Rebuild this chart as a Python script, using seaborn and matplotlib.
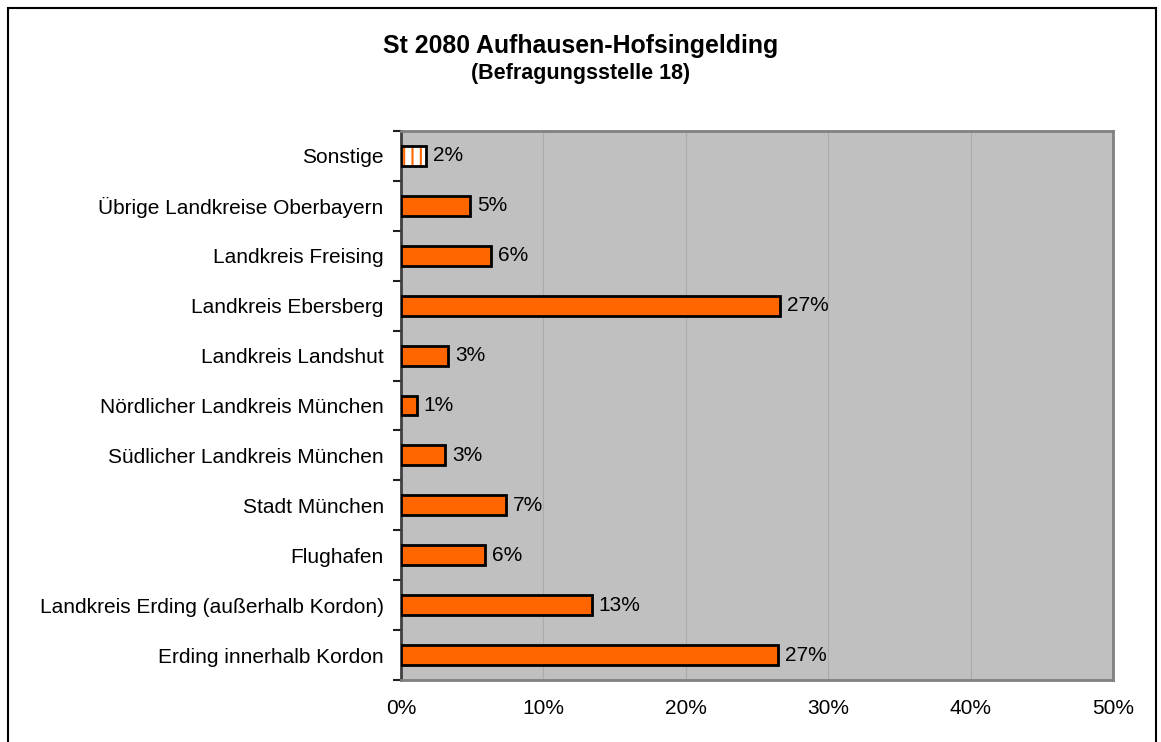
import matplotlib.pyplot as plt
import matplotlib.patches as mpatches
import seaborn as sns
import pandas as pd
import numpy as np

## data (share in %)
categories = ['Sonstige', 'Übrige Landkreise Oberbayern', 'Landkreis Freising',
              'Landkreis Ebersberg', 'Landkreis Landshut', 'Nördlicher Landkreis München',
              'Südlicher Landkreis München', 'Stadt München', 'Flughafen',
              'Landkreis Erding (außerhalb Kordon)', 'Erding innerhalb Kordon']
shares = [1.75, 4.85, 6.3, 26.6, 3.3, 1.1, 3.1, 7.4, 5.9, 13.4, 26.5]
x_ticks = [0, 10, 20, 30, 40, 50]

title = 'St 2080 Aufhausen-Hofsingelding'
subtitle = '(Befragungsstelle 18)'

df = pd.DataFrame({'cat': categories, 'share': shares})

sns.set_style('white')
plt.rcParams['font.family'] = ['Liberation Sans', 'DejaVu Sans']
plt.rcParams['text.color'] = 'black'
plt.rcParams['xtick.color'] = 'black'
plt.rcParams['ytick.color'] = 'black'
plt.rcParams['hatch.linewidth'] = 1.5

fig = plt.figure(figsize=(11.61, 7.42), dpi=100)
ax = fig.add_axes([401/1161, 1-680/742, 712/1161, 549/742])

orange = '#FF6600'
sns.barplot(data=df, y='cat', x='share', orient='h', color=orange, width=0.4,
            edgecolor='black', linewidth=2, saturation=1, ax=ax, zorder=3)

## hatched bar for "Sonstige"
p = ax.patches[0]
p.set_facecolor('white')
p.set_edgecolor(orange)
p.set_hatch('||')
p.set_linewidth(0)
frame = mpatches.Rectangle((p.get_x(), p.get_y()), p.get_width(), p.get_height(),
                           fill=False, edgecolor='black', linewidth=2, zorder=4)
ax.add_patch(frame)

ax.bar_label(ax.containers[0], labels=[f'{int(v + 0.5)}%' for v in shares],
             padding=5, fontsize=15)

ax.set_facecolor('#C0C0C0')
ax.set_xlim(0, 50)
ax.set_ylim(len(categories) - 0.5, -0.5)
ax.set_xticks(x_ticks)
ax.set_xticklabels([f'{t}%' for t in x_ticks], fontsize=15)
ax.tick_params(axis='y', length=0, labelsize=15, pad=12.5)
ax.tick_params(axis='x', length=6, width=1.5, color='#202020', pad=8)
ax.set_yticks(np.arange(-0.5, len(categories), 1), minor=True)
ax.tick_params(axis='y', which='minor', length=6, width=1.5, color='#202020', left=True)
ax.set_xlabel('')
ax.set_ylabel('')

ax.grid(axis='x', color='#ABABAB', linewidth=0.8, zorder=0)
ax.set_axisbelow(True)

for side in ['top', 'right', 'bottom']:
    ax.spines[side].set_color('#808080')
    ax.spines[side].set_linewidth(2)
ax.spines['left'].set_color('#404040')
ax.spines['left'].set_linewidth(2)

fig.text(581/1161, 1-46/742, title, ha='center', va='center', fontsize=17.9, fontweight='bold')
fig.text(581/1161, 1-73/742, subtitle, ha='center', va='center', fontsize=15.5, fontweight='bold')

## outer chart frame
border = mpatches.Rectangle((8/1161, -0.05), 1148/1161, 1.05 - 8/742, transform=fig.transFigure,
                            fill=False, edgecolor='black', linewidth=1.5, clip_on=False)
fig.patches.append(border)

plt.savefig('out.png', dpi=100)
